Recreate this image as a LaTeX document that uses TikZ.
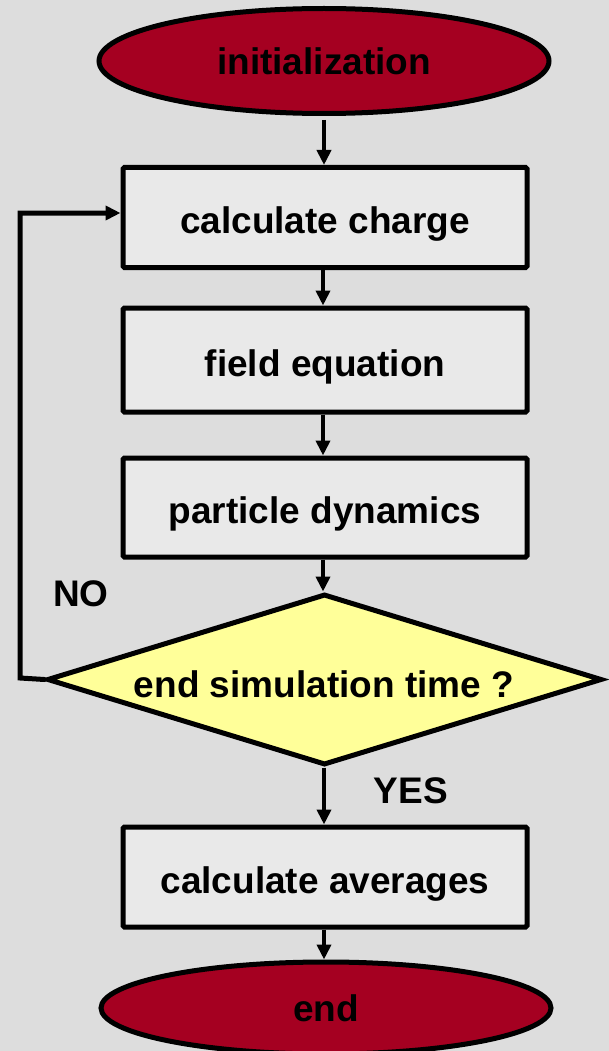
\documentclass[tikz,border=0pt]{standalone}
\usepackage{fontspec}
\setmainfont{Liberation Sans}
\usetikzlibrary{shapes.geometric,arrows.meta}
\definecolor{bg}{HTML}{DDDDDD}
\definecolor{boxfill}{HTML}{E9E9E9}
\definecolor{termred}{HTML}{A50021}
\definecolor{decyellow}{HTML}{FFFF99}
\tikzset{
  txt/.style={font=\fontsize{37}{40}\selectfont\bfseries, text=black},
  terminal/.style={ellipse, draw=black, line width=5pt, fill=termred, txt, minimum width=450pt, inner sep=0pt},
  stepbox/.style={rectangle, draw=black, line width=5pt, fill=boxfill, txt, minimum width=404pt, rounded corners=1.5pt, text height=40pt, text depth=8pt},
  decision/.style={diamond, draw=black, line width=5pt, fill=decyellow, txt, aspect=3.25, inner sep=0pt, minimum width=555pt, minimum height=171pt},
  conn/.style={line width=4pt, -{Triangle[length=15pt,width=14pt]}},
  lbl/.style={txt}
}
\begin{document}
\begin{tikzpicture}[x=1pt,y=-1pt]
\fill[bg] (0,0) rectangle (609,1051);
\useasboundingbox (0,0) rectangle (609,1051);
\node[terminal, minimum height=105pt] (init) at (324,61) {initialization};
\node[stepbox, minimum height=100pt] (b1) at (325,217.5) {calculate charge};
\node[stepbox, minimum height=104pt] (b2) at (325,360) {field equation};
\node[stepbox, minimum height=99pt] (b3) at (325,507.5) {particle dynamics};
\node[decision] (dec) at (324.5,679.5) {};
\node[txt] at (324,684) {end simulation time ?};
\node[stepbox, minimum height=100pt] (b4) at (325,877) {calculate averages};
\node[terminal, minimum height=92pt] (end) at (326,1008) {end};
\node[lbl] (no) at (81,594) {NO};
\node[lbl] (yes) at (411,791) {YES};
\coordinate (lb) at (20,678);
\coordinate (lt) at (20,213);
\draw[conn] (324,120) -- (b1.north -| 324,0);
\draw[conn] (b1.south -| 323,0) -- (b2.north -| 323,0);
\draw[conn] (b2.south -| 323,0) -- (b3.north -| 323,0);
\draw[conn] (b3.south -| 323,0) -- (dec.north -| 323,0);
\draw[conn] (dec.south -| 324,0) -- (b4.north -| 324,0);
\draw[conn] (b4.south -| 324,0) -- (end.north -| 324,0);
\draw[line width=5pt, line cap=round, line join=miter, -{Triangle[length=15pt,width=14pt]}] (dec.west) -- (lb) -- (lt) -- (b1.west |- lt);
\end{tikzpicture}
\end{document}
